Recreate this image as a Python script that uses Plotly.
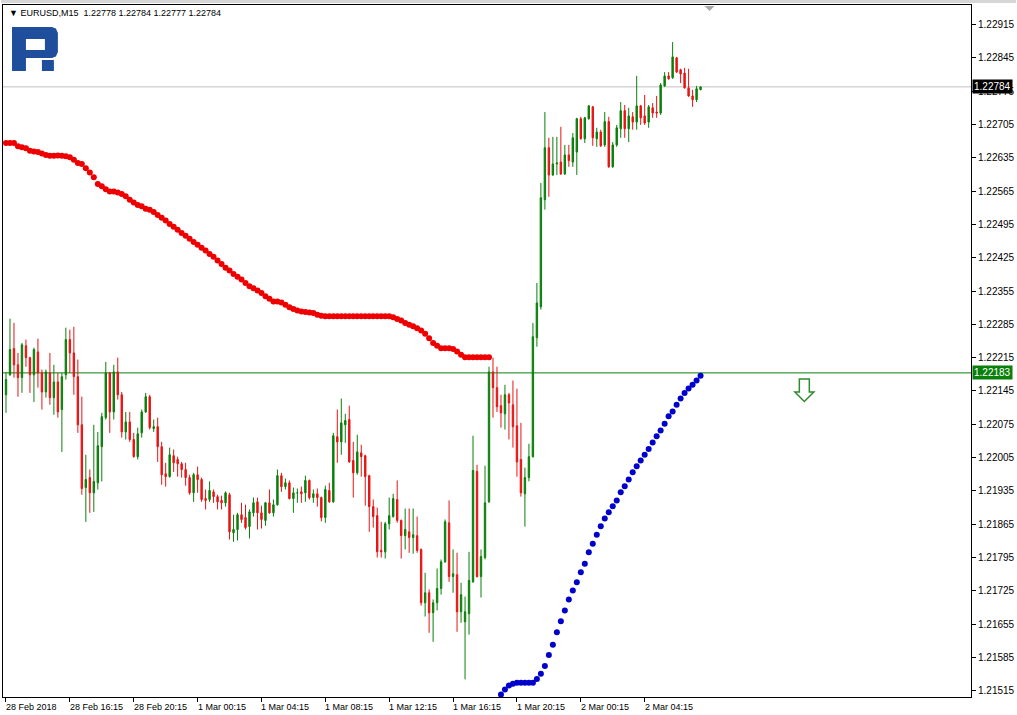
import plotly.graph_objects as go

# ---------------- data (EURUSD M15, one value per bar) ----------------
open_ = [1.22137,1.22179,1.22234,1.22200,1.22173,1.22240,1.22215,1.22179,1.22227,1.22183,
         1.22143,1.22183,1.22131,1.22164,1.22106,1.22179,1.22253,1.22225,1.22175,1.22074,
         1.21942,1.21963,1.21931,1.21952,1.22028,1.22089,1.22183,1.22101,1.22185,1.22137,
         1.22059,1.22080,1.22043,1.22007,1.22057,1.22101,1.22133,1.22066,1.22070,1.22028,
         1.21971,1.21965,1.22009,1.22001,1.21992,1.21980,1.21963,1.21931,1.21969,1.21959,
         1.21919,1.21917,1.21933,1.21923,1.21915,1.21910,1.21927,1.21847,1.21854,1.21885,
         1.21879,1.21860,1.21889,1.21912,1.21889,1.21873,1.21910,1.21889,1.21906,1.21967,
         1.21944,1.21952,1.21919,1.21931,1.21933,1.21931,1.21957,1.21921,1.21929,1.21921,
         1.21879,1.21936,1.21912,1.22049,1.22038,1.22074,1.22085,1.21999,1.21973,1.22015,
         1.22009,1.21967,1.21902,1.21883,1.21810,1.21807,1.21866,1.21881,1.21917,1.21873,
         1.21841,1.21849,1.21837,1.21841,1.21812,1.21700,1.21721,1.21679,1.21700,1.21730,
         1.21786,1.21868,1.21755,1.21759,1.21681,1.21660,1.21677,1.21744,1.21976,1.21755,
         1.21795,1.21912,1.22185,1.22152,1.22114,1.22097,1.22137,1.22116,1.22072,1.22001,
         1.21929,1.21963,1.22007,1.22257,1.22322,1.22547,1.22656,1.22599,1.22622,1.22626,
         1.22601,1.22641,1.22626,1.22647,1.22717,1.22675,1.22717,1.22742,1.22675,1.22689,
         1.22662,1.22711,1.22616,1.22662,1.22696,1.22734,1.22696,1.22721,1.22710,1.22744,
         1.22723,1.22710,1.22740,1.22731,1.22729,1.22786,1.22807,1.22803,1.22845,1.22820,
         1.22813,1.22782,1.22765,1.22757,1.22778]
high = [1.22185,1.22297,1.22288,1.22225,1.22246,1.22253,1.22217,1.22236,1.22255,1.22190,
        1.22190,1.22225,1.22200,1.22183,1.22183,1.22278,1.22274,1.22280,1.22211,1.22133,
        1.22011,1.21980,1.22074,1.22059,1.22099,1.22206,1.22185,1.22200,1.22215,1.22143,
        1.22101,1.22101,1.22057,1.22068,1.22106,1.22141,1.22137,1.22085,1.22089,1.22038,
        1.21994,1.22026,1.22022,1.22007,1.21996,1.21994,1.21969,1.21973,1.21986,1.21963,
        1.21938,1.21955,1.21938,1.21927,1.21925,1.21934,1.21931,1.21885,1.21889,1.21910,
        1.21906,1.21896,1.21921,1.21921,1.21904,1.21912,1.21938,1.21917,1.21980,1.21973,
        1.21961,1.21957,1.21942,1.21940,1.21944,1.21967,1.21959,1.21938,1.21940,1.21923,
        1.21946,1.21952,1.22057,1.22106,1.22129,1.22097,1.22114,1.22038,1.22053,1.22032,
        1.22011,1.21969,1.21917,1.21900,1.21870,1.21870,1.21921,1.21929,1.21957,1.21875,
        1.21898,1.21898,1.21898,1.21881,1.21814,1.21763,1.21728,1.21707,1.21772,1.21791,
        1.21875,1.21915,1.21812,1.21805,1.21742,1.21713,1.21807,1.22051,1.21990,1.21812,
        1.21988,1.22196,1.22215,1.22196,1.22137,1.22158,1.22141,1.22167,1.22150,1.22078,
        1.21984,1.22034,1.22288,1.22372,1.22582,1.22731,1.22677,1.22679,1.22679,1.22700,
        1.22662,1.22662,1.22687,1.22719,1.22721,1.22721,1.22746,1.22744,1.22698,1.22694,
        1.22731,1.22721,1.22668,1.22704,1.22752,1.22746,1.22740,1.22731,1.22807,1.22746,
        1.22767,1.22746,1.22750,1.22765,1.22792,1.22815,1.22815,1.22878,1.22847,1.22822,
        1.22824,1.22822,1.22778,1.22786,1.22784]
low = [1.22099,1.22177,1.22173,1.22133,1.22141,1.22196,1.22141,1.22122,1.22152,1.22106,
       1.22131,1.22116,1.22095,1.22089,1.22017,1.22169,1.22183,1.22137,1.22057,1.21927,
       1.21870,1.21889,1.21891,1.21938,1.21955,1.22085,1.22057,1.22085,1.22127,1.22047,
       1.22043,1.22038,1.22005,1.22001,1.22047,1.22099,1.22064,1.22059,1.21996,1.21948,
       1.21944,1.21963,1.21975,1.21965,1.21963,1.21946,1.21927,1.21912,1.21931,1.21912,
       1.21896,1.21912,1.21910,1.21896,1.21896,1.21902,1.21833,1.21828,1.21831,1.21868,
       1.21854,1.21835,1.21881,1.21854,1.21856,1.21862,1.21887,1.21881,1.21904,1.21933,
       1.21938,1.21917,1.21889,1.21910,1.21910,1.21912,1.21917,1.21910,1.21902,1.21871,
       1.21868,1.21910,1.21910,1.21994,1.22011,1.22036,1.21994,1.21921,1.21969,1.21965,
       1.21904,1.21849,1.21858,1.21795,1.21795,1.21793,1.21854,1.21879,1.21868,1.21793,
       1.21812,1.21805,1.21803,1.21805,1.21694,1.21671,1.21637,1.21618,1.21684,1.21717,
       1.21784,1.21744,1.21721,1.21639,1.21658,1.21539,1.21633,1.21742,1.21753,1.21711,
       1.21791,1.21910,1.22089,1.22101,1.22068,1.22064,1.22043,1.22026,1.21965,1.21923,
       1.21860,1.21955,1.22005,1.22238,1.22316,1.22526,1.22553,1.22597,1.22599,1.22599,
       1.22599,1.22616,1.22616,1.22599,1.22673,1.22666,1.22715,1.22660,1.22658,1.22658,
       1.22658,1.22614,1.22614,1.22658,1.22677,1.22677,1.22668,1.22694,1.22694,1.22704,
       1.22704,1.22698,1.22719,1.22719,1.22725,1.22784,1.22799,1.22801,1.22813,1.22792,
       1.22780,1.22763,1.22742,1.22752,1.22777]
close = [1.22169,1.22232,1.22200,1.22173,1.22242,1.22215,1.22179,1.22232,1.22183,1.22143,
         1.22185,1.22131,1.22164,1.22101,1.22175,1.22253,1.22225,1.22175,1.22074,1.21940,
         1.21959,1.21931,1.21955,1.22030,1.22091,1.22183,1.22101,1.22185,1.22137,1.22059,
         1.22080,1.22043,1.22007,1.22055,1.22101,1.22133,1.22068,1.22070,1.22028,1.21969,
         1.21965,1.22011,1.21994,1.21992,1.21980,1.21963,1.21931,1.21969,1.21959,1.21917,
         1.21915,1.21936,1.21923,1.21912,1.21910,1.21931,1.21849,1.21854,1.21885,1.21875,
         1.21858,1.21891,1.21910,1.21889,1.21875,1.21910,1.21889,1.21906,1.21967,1.21944,
         1.21952,1.21919,1.21931,1.21931,1.21929,1.21957,1.21921,1.21929,1.21921,1.21879,
         1.21938,1.21912,1.22051,1.22038,1.22078,1.22083,1.21996,1.21973,1.22017,1.22007,
         1.21965,1.21902,1.21881,1.21807,1.21807,1.21866,1.21883,1.21919,1.21873,1.21841,
         1.21854,1.21837,1.21843,1.21810,1.21700,1.21721,1.21679,1.21700,1.21730,1.21786,
         1.21870,1.21755,1.21761,1.21681,1.21717,1.21681,1.21747,1.21978,1.21755,1.21797,
         1.21910,1.22185,1.22152,1.22112,1.22099,1.22137,1.22120,1.22070,1.21996,1.21931,
         1.21963,1.22007,1.22259,1.22330,1.22551,1.22656,1.22599,1.22622,1.22624,1.22601,
         1.22641,1.22629,1.22677,1.22717,1.22675,1.22719,1.22744,1.22677,1.22689,1.22660,
         1.22711,1.22616,1.22662,1.22698,1.22734,1.22696,1.22723,1.22710,1.22744,1.22719,
         1.22708,1.22742,1.22729,1.22729,1.22788,1.22807,1.22801,1.22847,1.22815,1.22811,
         1.22782,1.22765,1.22757,1.22780,1.22784]

# indicator dots above price (red) and below price (blue)
red_start = 0
red_dots = [1.22666,1.22666,1.22666,1.22659,1.22657,1.22655,1.22650,1.22648,1.22647,1.22644,
            1.22641,1.22639,1.22639,1.22640,1.22639,1.22638,1.22636,1.22631,1.22624,1.22622,
            1.22613,1.22604,1.22594,1.22580,1.22575,1.22569,1.22564,1.22564,1.22562,1.22559,
            1.22554,1.22547,1.22541,1.22536,1.22533,1.22528,1.22526,1.22521,1.22515,1.22509,
            1.22503,1.22496,1.22490,1.22484,1.22477,1.22471,1.22465,1.22458,1.22452,1.22446,
            1.22440,1.22433,1.22427,1.22419,1.22412,1.22404,1.22398,1.22391,1.22385,1.22379,
            1.22372,1.22365,1.22361,1.22356,1.22351,1.22344,1.22339,1.22333,1.22333,1.22331,
            1.22326,1.22321,1.22317,1.22314,1.22312,1.22311,1.22310,1.22309,1.22305,1.22303,
            1.22302,1.22302,1.22302,1.22302,1.22302,1.22302,1.22302,1.22302,1.22302,1.22302,
            1.22302,1.22302,1.22302,1.22302,1.22302,1.22302,1.22302,
            1.22300,1.22296,1.22293,1.22288,1.22284,1.22281,1.22277,1.22272,1.22265,1.22256,
            1.22246,1.22240,1.22235,1.22235,1.22235,1.22233,1.22228,1.22221,1.22216,1.22216,
            1.22216,1.22216,1.22216,1.22216,1.22216]
blue_start = 124
blue_dots = [1.21507,1.21518,1.21526,1.21530,1.21532,1.21532,1.21532,1.21532,1.21532,1.21540,
             1.21551,1.21567,1.21590,1.21612,1.21638,1.21661,1.21684,1.21707,1.21726,1.21743,
             1.21764,1.21782,1.21806,1.21824,1.21843,1.21861,1.21877,1.21890,1.21903,1.21915,
             1.21932,1.21945,1.21959,1.21974,1.21987,1.21999,1.22011,1.22023,1.22037,1.22050,
             1.22062,1.22076,1.22092,1.22102,1.22116,1.22129,1.22141,1.22150,1.22158,1.22167,
             1.22177]

time_tick_idx = [0, 16, 32, 48, 64, 80, 96, 112, 128, 144, 160]
time_tick_labels = ["28 Feb 2018", "28 Feb 16:15", "28 Feb 20:15", "1 Mar 00:15", "1 Mar 04:15",
                    "1 Mar 08:15", "1 Mar 12:15", "1 Mar 16:15", "1 Mar 20:15", "2 Mar 00:15",
                    "2 Mar 04:15"]
price_ticks = [1.21515, 1.21585, 1.21655, 1.21725, 1.21795, 1.21865, 1.21935, 1.22005, 1.22075,
               1.22145, 1.22215, 1.22285, 1.22355, 1.22425, 1.22495, 1.22565, 1.22635, 1.22705,
               1.22775, 1.22845, 1.22915]
bid_price = 1.22784
level_price = 1.22183
header = "\u25BC EURUSD,M15  1.22778 1.22784 1.22777 1.22784"

# ---------------- layout geometry ----------------
W, H = 1017, 715
L, R, T, B = 2, 45, 5, 18
PW, PH = W - L - R, H - T - B

def pxx(x):
    return (x - L) / PW

def pxy(y):
    return 1 - (y - T) / PH

def path(points):
    s = "M " + " L ".join(f"{pxx(x):.5f},{pxy(y):.5f}" for x, y in points) + " Z"
    return s

GREEN = "#0a7f0a"
RED = "#e81313"
FONT = "Liberation Sans, Arial, sans-serif"

idx = list(range(len(open_)))

fig = go.Figure()
fig.add_trace(go.Candlestick(
    x=idx, open=open_, high=high, low=low, close=close,
    increasing=dict(line=dict(color=GREEN, width=1), fillcolor=GREEN),
    decreasing=dict(line=dict(color=RED, width=1), fillcolor=RED),
    whiskerwidth=0, showlegend=False, hoverinfo="skip"))

fig.add_trace(go.Scatter(
    x=list(range(red_start, red_start + len(red_dots))), y=red_dots, mode="markers",
    marker=dict(color="#ee0000", size=6), showlegend=False, hoverinfo="skip"))
fig.add_trace(go.Scatter(
    x=list(range(blue_start, blue_start + len(blue_dots))), y=blue_dots, mode="markers",
    marker=dict(color="#0000cc", size=6), showlegend=False, hoverinfo="skip"))

shapes = []
shapes.append(dict(type="line", xref="paper", yref="y", x0=0, x1=1, y0=bid_price, y1=bid_price,
                   line=dict(color="#c0c0c0", width=1), layer="below"))
shapes.append(dict(type="line", xref="paper", yref="y", x0=0, x1=1, y0=level_price, y1=level_price,
                   line=dict(color="#0a7f0a", width=1), layer="below"))
shapes.append(dict(type="rect", xref="paper", yref="paper", x0=pxx(0), x1=pxx(W), y0=pxy(0), y1=pxy(3),
                   fillcolor="#d6d6d6", line=dict(width=0), layer="below"))
shapes.append(dict(type="path", xref="paper", yref="paper",
                   path=path([(705, 6), (715, 6), (710, 11)]), fillcolor="#a8a8a8", line=dict(width=0)))
LOGO = "#1f4f9c"
shapes.append(dict(type="path", xref="paper", yref="paper",
                   path=path([(11, 27), (51, 27), (55, 28.5), (57, 33), (57, 52), (55, 56.5), (51, 58),
                              (25, 58), (25, 71), (11, 71)]),
                   fillcolor=LOGO, line=dict(width=0)))
shapes.append(dict(type="rect", xref="paper", yref="paper", x0=pxx(25), x1=pxx(44), y0=pxy(50), y1=pxy(39),
                   fillcolor="white", line=dict(width=0)))
shapes.append(dict(type="rect", xref="paper", yref="paper", x0=pxx(41), x1=pxx(53), y0=pxy(71), y1=pxy(60),
                   fillcolor=LOGO, line=dict(width=0)))
shapes.append(dict(type="path", xref="paper", yref="paper",
                   path=path([(800, 379), (810, 379), (810, 392), (814.5, 392), (805, 401.5),
                              (795.5, 392), (800, 392)]),
                   fillcolor="white", line=dict(color="#2e8b2e", width=1.5)))

annotations = []
annotations.append(dict(text=header, xref="paper", yref="paper", x=pxx(6), y=pxy(13),
                        xanchor="left", yanchor="middle", showarrow=False,
                        font=dict(family=FONT, size=9, color="black")))
for i, lab in zip(time_tick_idx, time_tick_labels):
    annotations.append(dict(text=lab, xref="x", yref="paper", x=i, y=pxy(706.5),
                            xanchor="left", yanchor="middle", showarrow=False, xshift=-2,
                            font=dict(family=FONT, size=9, color="black")))
annotations.append(dict(text=f"{bid_price:.5f}", xref="paper", yref="y", x=1, y=bid_price,
                        xanchor="left", yanchor="middle", showarrow=False, xshift=1,
                        bgcolor="black", borderpad=1,
                        font=dict(family=FONT, size=10, color="white")))
annotations.append(dict(text=f"{level_price:.5f}", xref="paper", yref="y", x=1, y=level_price,
                        xanchor="left", yanchor="middle", showarrow=False, xshift=1,
                        bgcolor="#0a7f0a", borderpad=1,
                        font=dict(family=FONT, size=10, color="white")))

fig.update_layout(
    width=W, height=H,
    margin=dict(l=L, r=R, t=T, b=B, pad=0),
    paper_bgcolor="white", plot_bgcolor="white",
    showlegend=False,
    boxgap=0.5,
    shapes=shapes, annotations=annotations,
    xaxis=dict(range=[-0.75, 241.75], showgrid=False, zeroline=False, showline=True,
               linecolor="black", linewidth=1, mirror=True, ticks="outside", ticklen=4,
               tickcolor="black", tickvals=time_tick_idx, showticklabels=False,
               rangeslider=dict(visible=False), fixedrange=True),
    yaxis=dict(range=[1.21502, 1.22956], side="right", showgrid=False, zeroline=False,
               showline=True, linecolor="black", linewidth=1, mirror=True,
               ticks="outside", ticklen=4, tickcolor="black",
               tickvals=price_ticks, ticktext=[f"{v:.5f}" for v in price_ticks],
               tickfont=dict(family=FONT, size=10, color="black"),
               fixedrange=True),
)

fig.write_html("out.html", config={"displayModeBar": False},
               post_script="document.body.style.margin='0';document.body.style.padding='0';")
